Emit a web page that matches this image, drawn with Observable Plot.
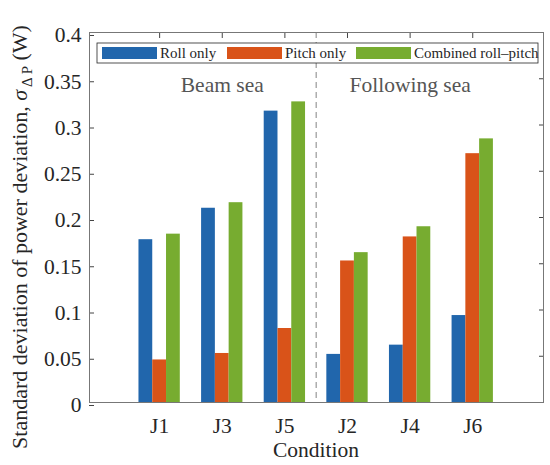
<!DOCTYPE html>
<html><head><meta charset="utf-8">
<script src="https://cdn.jsdelivr.net/npm/d3@7"></script>
<script src="https://cdn.jsdelivr.net/npm/@observablehq/plot@0.6"></script>
<style>body{margin:0;background:#fff} #chart{width:550px;height:465px} #chart svg, #chart svg text{font-family:"Liberation Serif","DejaVu Serif",serif !important}</style>
</head><body><div id="chart"></div>
<script>
const conditions = ["J1", "J3", "J5", "J2", "J4", "J6"];
const seriesNames = ["Roll only", "Pitch only", "Combined roll\u2013pitch"];
const rollOnly = [0.176, 0.210, 0.315, 0.052, 0.062, 0.094];
const pitchOnly = [0.046, 0.053, 0.080, 0.153, 0.179, 0.269];
const combined = [0.182, 0.216, 0.325, 0.162, 0.190, 0.285];
const yTicks = [0, 0.05, 0.1, 0.15, 0.2, 0.25, 0.3, 0.35, 0.4];
const yTickLabels = ["0", "0.05", "0.1", "0.15", "0.2", "0.25", "0.3", "0.35", "0.4"];
const colors = ["#2166ac", "#d95319", "#77ac30"];
const regions = [{label: "Beam sea", at: "J3"}, {label: "Following sea", at: "J4"}];
const regionLabelY = 0.343;
const separatorAt = 3.5;

const seriesValues = [rollOnly, pitchOnly, combined];
const barW = 0.22;
const data = [];
seriesNames.forEach((s, si) => conditions.forEach((c, ci) =>
  data.push({condition: c, series: s, pos: ci + 1, k: si - 1, value: seriesValues[si][ci]})));
const positions = conditions.map((c, i) => i + 1);

const font = "Liberation Serif, DejaVu Serif, serif";
const plot = Plot.plot({
  width: 550, height: 465,
  marginLeft: 89, marginRight: 7, marginTop: 32, marginBottom: 63,
  style: {fontFamily: font, fontSize: "21.5px", color: "#262626", background: "white"},
  x: {domain: [-0.12, 7.13]},
  y: {domain: [0, 0.4]},
  color: {domain: seriesNames, range: colors},
  marks: [
    Plot.ruleX([separatorAt], {stroke: "#999", strokeDasharray: "6,4", strokeWidth: 1.2}),
    Plot.axisY(yTicks, {anchor: "left", tickSize: -5, tickPadding: 13, dy: 3, tickFormat: d => yTickLabels[yTicks.indexOf(d)], label: null, stroke: "#444", fill: "#262626"}),
    Plot.axisY(yTicks, {anchor: "right", tickSize: -5, tickFormat: () => "", label: null, stroke: "#444"}),
    Plot.axisX(positions, {anchor: "bottom", tickSize: -5, tickPadding: 20, tickFormat: d => conditions[d - 1], label: null, stroke: "#444", fill: "#262626"}),
    Plot.axisX(positions, {anchor: "top", tickSize: -5, tickFormat: () => "", label: null, stroke: "#444"}),
    Plot.rectY(data, {x1: d => d.pos + d.k * barW - barW / 2, x2: d => d.pos + d.k * barW + barW / 2, y: "value", fill: "series"}),
    Plot.text(regions, {x: d => conditions.indexOf(d.at) + 1, y: () => regionLabelY, text: "label", fill: "#555", fontSize: 21.5}),
    Plot.frame({stroke: "#777"})
  ]
});
document.getElementById("chart").appendChild(plot);

const svg = d3.select(plot);
// X axis label
svg.append("text").attr("x", 316).attr("y", 457).attr("text-anchor", "middle")
  .attr("font-size", 21.5).attr("fill", "#262626").text("Condition");

// Y axis label with sigma subscript
const yl = svg.append("text")
  .attr("transform", "translate(27,237) rotate(-90)")
  .attr("text-anchor", "middle")
  .attr("font-size", 22).attr("fill", "#262626");
yl.append("tspan").text("Standard deviation of power deviation, ");
yl.append("tspan").attr("font-style", "italic").text("\u03c3");
yl.append("tspan").attr("font-size", 15).attr("dy", 5).text(" \u0394 P");
yl.append("tspan").attr("dy", -5).text(" (W)");

// Legend box inside the axes
const lg = svg.append("g").attr("font-size", 15).attr("fill", "#262626").attr("text-anchor", "start");
lg.append("rect").attr("x", 97).attr("y", 43).attr("width", 441).attr("height", 20)
  .attr("fill", "white").attr("stroke", "#262626").attr("stroke-width", 0.8);
const swX = [102, 227, 356];
seriesNames.forEach((s, i) => {
  lg.append("rect").attr("x", swX[i]).attr("y", 47).attr("width", 55).attr("height", 12).attr("fill", colors[i]);
  lg.append("text").attr("x", swX[i] + 58).attr("y", 58.3).attr("text-anchor", "start").text(s);
});
</script>
</body></html>
